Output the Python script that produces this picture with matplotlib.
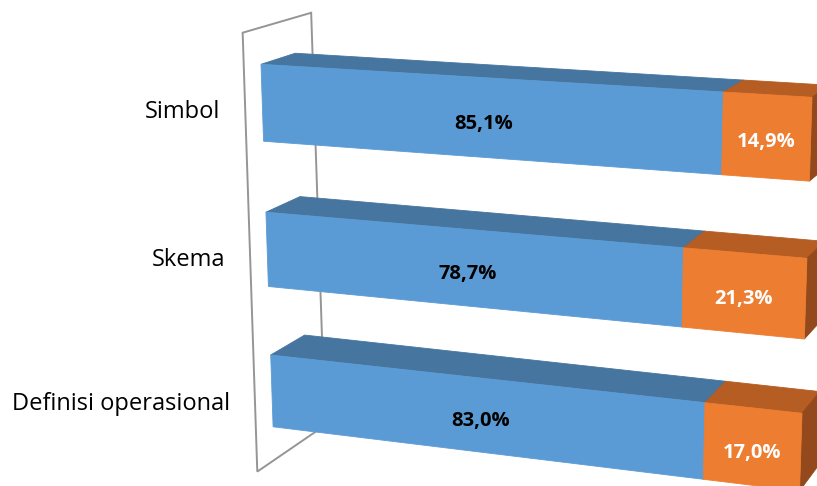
import numpy as np
import matplotlib
matplotlib.use('Agg')
import matplotlib.pyplot as plt
from matplotlib.patches import Polygon
import matplotlib.transforms as mtransforms

# ====================================
# Data
# ====================================
categories = ['Simbol', 'Skema', 'Definisi operasional']
series_1   = [85.1, 78.7, 83.0]
series_2   = [14.9, 21.3, 17.0]

# ====================================
# Look
# ====================================
blue_front   = '#5B9BD5'
blue_top     = '#4675A0'
blue_side    = '#3F6A92'
orange_front = '#ED7D31'
orange_top   = '#B55D22'
orange_side  = '#93491B'
wall_color   = '#959595'

W, H = 817, 486
half_h = 0.258          # half bar height, in category units
wall_z = (-0.5, 1.5)    # depth span of the side wall, bar depth is 0..1

# ====================================
# Fake 3D: homography for the front plane + vanishing point for depth
# ====================================
plane_pts  = [(0.0, -half_h), (1.0, -half_h), (0.0, 2 - half_h), (1.0, 2 - half_h)]
screen_pts = [(261.0, 64.3), (812.0, 97.3), (270.7, 355.0), (802.0, 413.3)]
vp         = np.array([1383.0, -299.0])
depth_frac = 0.0305


def homography(src, dst):
    A = []
    b = []
    for (x, y), (u, v) in zip(src, dst):
        A.append([x, y, 1, 0, 0, 0, -u*x, -u*y])
        b.append(u)
        A.append([0, 0, 0, x, y, 1, -v*x, -v*y])
        b.append(v)
    h = np.linalg.solve(np.array(A), np.array(b))
    return np.append(h, 1.0).reshape(3, 3)


Hm = homography(plane_pts, screen_pts)


def project(val, row, z):
    p = Hm @ np.array([val/100.0, row, 1.0])
    p = p[:2]/p[2]
    return p + depth_frac*z*(vp - p)


def face(ax, pts, color, z=1):
    ax.add_patch(Polygon(pts, closed=True, facecolor=color, edgecolor=color,
                         linewidth=0.6, joinstyle='miter', zorder=z))


fig = plt.figure(figsize=(W/100, H/100), dpi=100)
ax = fig.add_axes([0, 0, 1, 1])
ax.set_xlim(0, W)
ax.set_ylim(H, 0)
ax.axis('off')

# ====================================
# Side wall (outline only)
# ====================================
wall = [project(0, -0.5, wall_z[0]), project(0, -0.5, wall_z[1]),
        project(0, 2.5, wall_z[1]), project(0, 2.5, wall_z[0])]
ax.add_patch(Polygon(wall, closed=True, fill=False, edgecolor=wall_color,
                     linewidth=1.4, zorder=0))

# ====================================
# Bars
# ====================================
for i in range(len(categories)):
    top, bot = i - half_h, i + half_h
    segs = [(0, series_1[i], blue_front, blue_top, blue_side),
            (series_1[i], series_1[i] + series_2[i], orange_front, orange_top, orange_side)]
    for k, (v0, v1, cf, ct, cs) in enumerate(segs):
        zo = 2 + k
        face(ax, [project(v0, top, 0), project(v1, top, 0),
                  project(v1, top, 1), project(v0, top, 1)], ct, zo)
        face(ax, [project(v1, top, 0), project(v1, bot, 0),
                  project(v1, bot, 1), project(v1, top, 1)], cs, zo)
        face(ax, [project(v0, top, 0), project(v1, top, 0),
                  project(v1, bot, 0), project(v0, bot, 0)], cf, zo)

    # data labels
    for v0, v1, tc in [(0, series_1[i], 'black'),
                       (series_1[i], series_1[i] + series_2[i], 'white')]:
        x, y = project((v0 + v1)/2.0, i, 0)
        tr = mtransforms.offset_copy(ax.transData, fig, x=0, y=-11, units='dots')
        txt = '{:.1f}%'.format(v1 - v0).replace('.', ',')
        ax.text(x, y, txt, transform=tr, ha='center', va='baseline', color=tc,
                fontsize=14.5, fontweight='bold', family=['Open Sans', 'DejaVu Sans'],
                zorder=10)

    # category labels
    x, y = project(0, i, wall_z[0])
    tr = mtransforms.offset_copy(ax.transData, fig, x=-25, y=-8.5, units='dots')
    ax.text(x, y, categories[i], transform=tr, ha='right', va='baseline',
            color='black', fontsize=17, family=['Open Sans', 'DejaVu Sans'])

fig.savefig('out.png', dpi=100)
